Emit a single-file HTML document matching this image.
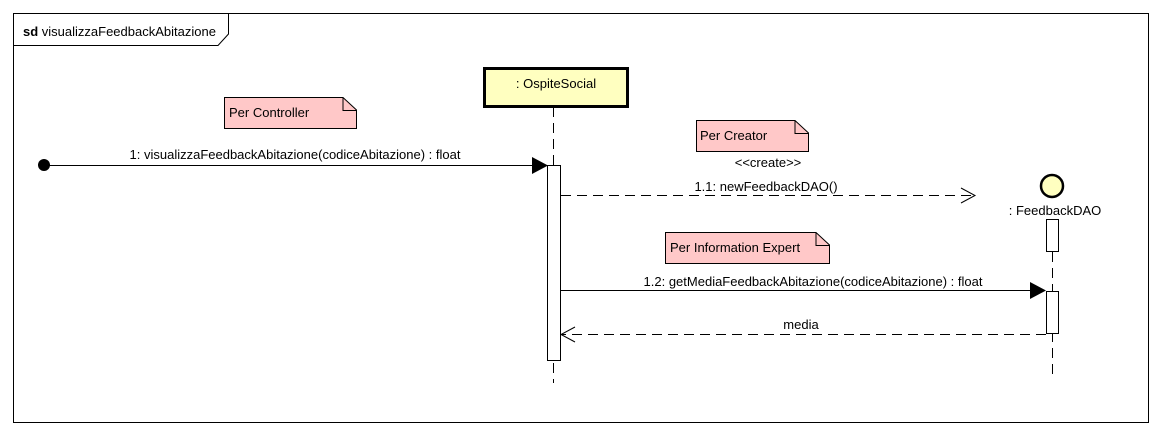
<!DOCTYPE html>
<html><head><meta charset="utf-8"><style>body{margin:0;background:#fff}svg{display:block}text{font-family:"Liberation Sans",sans-serif;font-size:13px;fill:#000}</style></head><body>
<svg width="1162" height="436" viewBox="0 0 1162 436">
<rect x="13.5" y="13.5" width="1135" height="409" fill="#fff" stroke="#000"/>
<path d="M13.5 45.5H218L228.5 34V13.5" fill="none" stroke="#000"/>
<text x="23" y="36"><tspan font-weight="bold">sd</tspan> visualizzaFeedbackAbitazione</text>
<line x1="553.5" y1="107" x2="553.5" y2="383" stroke="#000" stroke-dasharray="10,6"/>
<line x1="1052.5" y1="252" x2="1052.5" y2="380" stroke="#000" stroke-dasharray="10,6"/>
<rect x="484.5" y="68.5" width="143" height="38" fill="#ffffc0" stroke="#000" stroke-width="3"/>
<text x="556" y="88" text-anchor="middle">: OspiteSocial</text>
<rect x="547.5" y="165.5" width="13" height="195" fill="#fff" stroke="#000"/>
<path d="M224.5 97.5H343L356.5 110V128.5H224.5Z" fill="#ffc8c8" stroke="#000"/><path d="M343 97.5V110.5H356.5" fill="none" stroke="#000"/>
<text x="229" y="117">Per Controller</text>
<circle cx="44" cy="165" r="6" fill="#000"/>
<line x1="44" y1="165.5" x2="535" y2="165.5" stroke="#000"/>
<path d="M532 157L548 165.5L532 174Z" fill="#000"/>
<text x="295" y="159" text-anchor="middle">1: visualizzaFeedbackAbitazione(codiceAbitazione) : float</text>
<path d="M696.5 120.5H795L808.5 133V151.5H696.5Z" fill="#ffc8c8" stroke="#000"/><path d="M795 120.5V133.5H808.5" fill="none" stroke="#000"/>
<text x="700" y="140">Per Creator</text>
<text x="768" y="167" text-anchor="middle" font-size="12">&lt;&lt;create&gt;&gt;</text>
<text x="766" y="191" text-anchor="middle">1.1: newFeedbackDAO()</text>
<line x1="561" y1="195.5" x2="975" y2="195.5" stroke="#000" stroke-dasharray="10,6"/>
<path d="M961 188L975 195.5L961 203" fill="none" stroke="#000"/>
<circle cx="1052" cy="186" r="11" fill="#ffffc0" stroke="#000" stroke-width="2.5"/>
<text x="1055" y="215" text-anchor="middle">: FeedbackDAO</text>
<rect x="1046.5" y="219.5" width="12" height="32" fill="#fff" stroke="#000"/>
<path d="M665.5 232.5H816L829.5 245V263.5H665.5Z" fill="#ffc8c8" stroke="#000"/><path d="M816 232.5V245.5H829.5" fill="none" stroke="#000"/>
<text x="670" y="252">Per Information Expert</text>
<line x1="561" y1="290.5" x2="1032" y2="290.5" stroke="#000"/>
<path d="M1030 282L1046 290.5L1030 299Z" fill="#000"/>
<text x="813" y="286" text-anchor="middle">1.2: getMediaFeedbackAbitazione(codiceAbitazione) : float</text>
<rect x="1046.5" y="291.5" width="12" height="42" fill="#fff" stroke="#000"/>
<line x1="1046" y1="334.5" x2="562" y2="334.5" stroke="#000" stroke-dasharray="10,6"/>
<path d="M575 327L561 334.5L575 342" fill="none" stroke="#000"/>
<text x="801" y="329" text-anchor="middle">media</text>
</svg>
</body></html>
